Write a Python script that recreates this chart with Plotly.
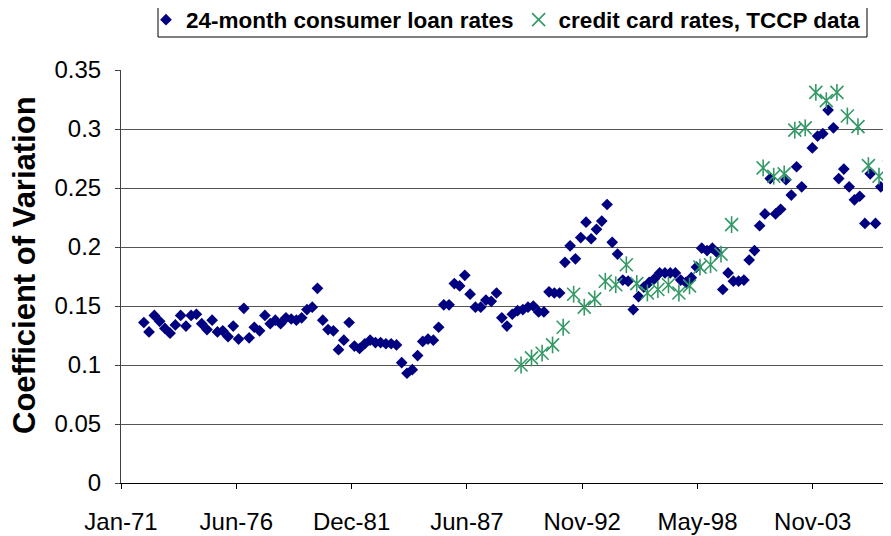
import pandas as pd
import plotly.graph_objects as go

# ---- data ----
loan_start = "1972-02-01"   # quarterly observations
loan_cv = [
    0.136, 0.128, 0.142, 0.137, 0.131, 0.127, 0.134, 0.142, 0.133, 0.142,
    0.143, 0.135, 0.130, 0.138, 0.128, 0.129, 0.124, 0.133, 0.122, 0.148,
    0.123, 0.132, 0.129, 0.142, 0.135, 0.138, 0.135, 0.140, 0.139, 0.138,
    0.140, 0.147, 0.149, 0.165, 0.138, 0.130, 0.129, 0.113, 0.121, 0.136,
    0.116, 0.114, 0.118, 0.121, 0.119, 0.119, 0.118, 0.118, 0.117, 0.102,
    0.093, 0.096, 0.108, 0.120, 0.122, 0.121, 0.132, 0.151, 0.151, 0.169,
    0.167, 0.176, 0.160, 0.149, 0.149, 0.155, 0.154, 0.161, 0.140, 0.133,
    0.143, 0.146, 0.147, 0.149, 0.150, 0.145, 0.145, 0.162, 0.161, 0.161,
    0.187, 0.201, 0.190, 0.208, 0.221, 0.207, 0.215, 0.222, 0.236, 0.204,
    0.194, 0.172, 0.171, 0.147, 0.158, 0.166, 0.170, 0.173, 0.178, 0.178,
    0.178, 0.178, 0.172, 0.170, 0.174, 0.183, 0.199, 0.197, 0.199, 0.195,
    0.164, 0.178, 0.171, 0.171, 0.172, 0.189, 0.197, 0.218, 0.228, 0.258,
    0.228, 0.232, 0.257, 0.244, 0.268, 0.251, None, 0.284, 0.294, 0.296,
    0.316, 0.301, 0.258, 0.266, 0.251, 0.240, 0.243, 0.220, 0.262, 0.220,
    0.251,
]

card_start = "1990-01-01"   # semi-annual TCCP surveys
card_cv = [
    0.100, 0.106, 0.110, 0.117, 0.132, 0.160, 0.149, 0.156, 0.171, 0.168,
    0.185, 0.169, 0.161, 0.164, 0.168, 0.161, 0.167, 0.183, 0.185, 0.194,
    0.219, None, None, 0.267, 0.260, 0.262, 0.299, 0.301, 0.331, 0.324,
    0.331, 0.311, 0.302, 0.269, 0.260, 0.268,
]

series_names = ["24-month consumer loan rates", "credit card rates, TCCP data"]
x_tick_labels = ["Jan-71", "Jun-76", "Dec-81", "Jun-87", "Nov-92", "May-98", "Nov-03"]
y_title = "Coefficient of Variation"

loan_dates = pd.date_range(loan_start, periods=len(loan_cv), freq="3MS")
card_dates = pd.date_range(card_start, periods=len(card_cv), freq="6MS")

axis_start = pd.Timestamp("1971-01-01")
tick_vals = [axis_start + pd.Timedelta(days=2000 * k) for k in range(len(x_tick_labels))]
axis_end = axis_start + pd.Timedelta(days=13357)

FONT = "Liberation Sans, Arial, sans-serif"
BLUE = "#000080"
GREEN = "#339966"

# The page body keeps its default 8px margin, so the figure is drawn 8px
# right of and below the window corner; all geometry is in window pixels.
OFF = 8
W, H = 891 - OFF, 536 - OFF
PL, PR, PT, PB = 121, 891, 70, 483          # plot area in window pixels
L, R, T, B = PL - OFF, 0, PT - OFF, (H + OFF) - PB
PW, PH = PR - PL, PB - PT

def px_x(p):
    return (p - PL) / PW

def px_y(p):
    return (PB - p) / PH

fig = go.Figure()
fig.add_trace(go.Scatter(
    x=loan_dates, y=loan_cv, mode="markers", name=series_names[0],
    marker=dict(symbol="diamond", size=9, color=BLUE, line=dict(width=0)),
))
fig.add_trace(go.Scatter(
    x=card_dates, y=card_cv, mode="markers", name=series_names[1],
    marker=dict(symbol="x-thin-open", size=13, color=GREEN,
                line=dict(width=1.6, color=GREEN)),
))
fig.add_trace(go.Scatter(
    x=card_dates, y=card_cv, mode="markers", showlegend=False,
    marker=dict(symbol="line-ns-open", size=12, color=GREEN,
                line=dict(width=1.6, color=GREEN)),
))

fig.update_layout(
    width=W, height=H,
    margin=dict(l=L, r=R, t=T, b=B, pad=0, autoexpand=False),
    paper_bgcolor="white", plot_bgcolor="white",
    font=dict(family=FONT, size=23, color="black"),
    showlegend=True,
    legend=dict(
        orientation="h", x=px_x(146), xanchor="left", y=px_y(20), yanchor="middle",
        borderwidth=0, bgcolor="rgba(0,0,0,0)",
        font=dict(family=FONT, size=22.5, color="black", weight="bold"),
        itemwidth=30, tracegroupgap=0,
    ),
    xaxis=dict(
        type="date", range=[axis_start, axis_end],
        tickmode="array", tickvals=tick_vals, ticktext=x_tick_labels,
        showgrid=False, zeroline=False,
        showline=True, linecolor="black", linewidth=1,
        ticks="outside", ticklen=5, tickcolor="black",
        ticklabelstandoff=12,
        tickfont=dict(family=FONT, size=24, color="black"),
    ),
    yaxis=dict(
        range=[0, 0.35], tickmode="linear", tick0=0, dtick=0.05,
        showgrid=True, gridcolor="#555555", gridwidth=1,
        zeroline=False,
        showline=True, linecolor="#404040", linewidth=1,
        ticks="outside", ticklen=5, tickcolor="#404040",
        ticklabelstandoff=9,
        tickfont=dict(family=FONT, size=24, color="black"),
    ),
    shapes=[dict(
        type="rect", xref="paper", yref="paper",
        x0=px_x(158), x1=px_x(867), y0=px_y(37), y1=px_y(4),
        line=dict(color="black", width=1), fillcolor="rgba(0,0,0,0)",
        layer="below",
    )],
    annotations=[dict(
        text=y_title, textangle=-90, xref="paper", yref="paper",
        x=px_x(24), y=px_y(265), xanchor="center", yanchor="middle", showarrow=False,
        font=dict(family=FONT, size=31, color="black", weight="bold"),
    )],
)

fig.write_html("out.html")
